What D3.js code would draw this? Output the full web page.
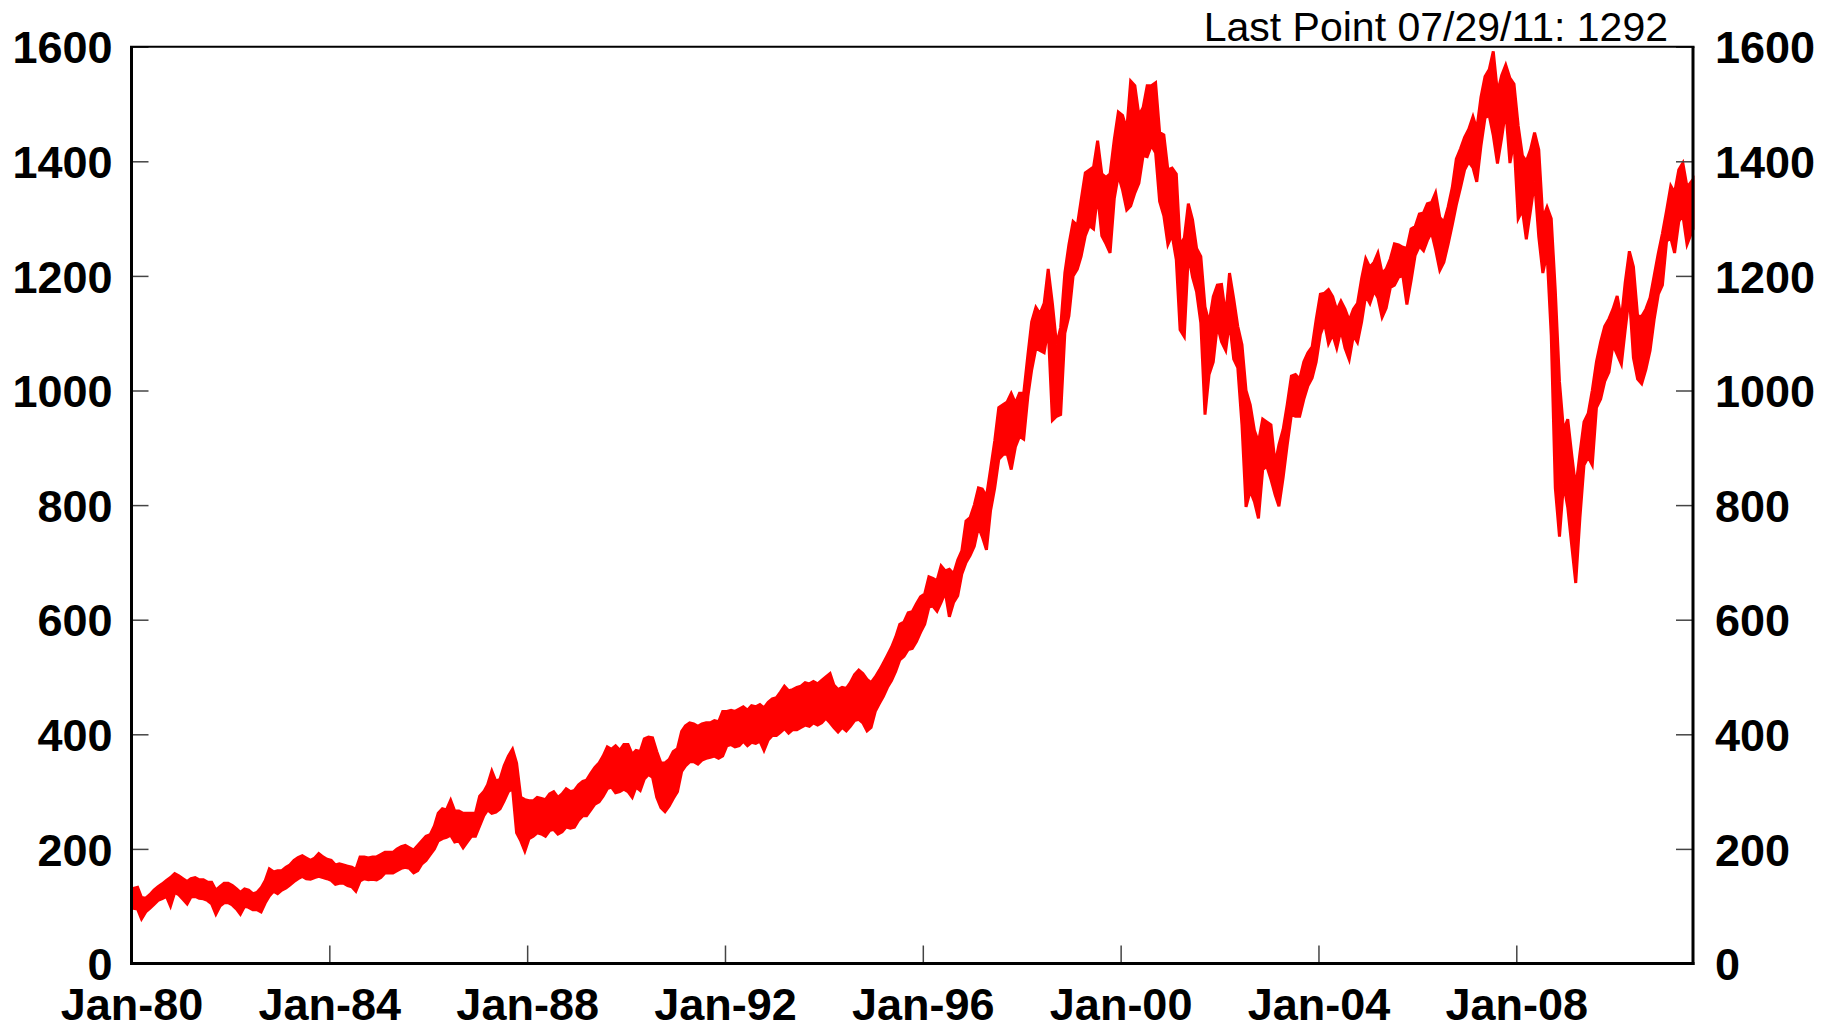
<!DOCTYPE html>
<html>
<head>
<meta charset="utf-8">
<script src="https://cdn.jsdelivr.net/npm/d3@7"></script>
<style>
  body { margin: 0; background: #fff; }
  svg { display: block; }
  .tick text { font-family: "Liberation Sans", Arial, sans-serif; font-weight: bold; font-size: 45px; fill: #000; }
  .tick line { stroke: #444; stroke-width: 1.5; }
</style>
</head>
<body>
<svg id="canvas"></svg>
<script>
// monthly band, Jan-80 .. Jul-11 (top and bottom edge of the drawn line)
let bandLow = [
  97, 95, 78, 90, 96, 103, 110, 113, 117, 100, 124, 120,             // 1980
  112, 104, 116, 117, 114, 113, 110, 104, 86, 100, 106, 106,         // 1981
  102, 95, 86, 100, 98, 94, 94, 90, 106, 118, 126, 122,              // 1982
  128, 132, 137, 143, 148, 152, 148, 147, 150, 152, 150, 148,        // 1983
  145, 138, 140, 140, 136, 134, 126, 144, 148, 146, 147, 146,        // 1984
  150, 158, 158, 158, 162, 166, 168, 166, 158, 162, 174, 180,        // 1985
  190, 200, 214, 218, 220, 224, 212, 214, 202, 212, 222, 222,        // 1986
  240, 258, 268, 262, 264, 270, 284, 300, 305, 228, 214, 196,        // 1987
  218, 222, 228, 226, 222, 232, 234, 226, 230, 238, 236, 238,        // 1988
  250, 258, 258, 268, 278, 282, 292, 305, 308, 298, 300, 304,        // 1989
  300, 290, 308, 302, 322, 330, 325, 290, 272, 265, 275, 288,        // 1990
  300, 335, 345, 352, 352, 348, 355, 358, 360, 362, 358, 362,        // 1991
  380, 382, 378, 380, 388, 380, 386, 384, 388, 372, 390, 398,        // 1992
  398, 404, 410, 402, 408, 408, 412, 416, 414, 420, 416, 420,        // 1993
  428, 420, 412, 404, 412, 406, 414, 424, 426, 420, 406, 412,        // 1994
  440, 454, 466, 482, 494, 510, 530, 536, 548, 550, 562, 578,        // 1995
  592, 622, 624, 615, 630, 648, 605, 630, 642, 680, 700, 712,        // 1996
  728, 762, 745, 722, 790, 830, 880, 888, 890, 862, 902, 920,        // 1997
  915, 990, 1036, 1074, 1070, 1066, 1108, 948, 955, 958, 1100, 1130, // 1998
  1200, 1212, 1234, 1270, 1288, 1282, 1342, 1270, 1256, 1240, 1335, 1376, // 1999
  1350, 1315, 1322, 1345, 1362, 1410, 1408, 1428, 1415, 1330, 1305, 1255, // 2000
  1272, 1228, 1106, 1094, 1238, 1198, 1172, 1118, 958, 1028, 1050, 1114,  // 2001
  1085, 1070, 1120, 1055, 1040, 940, 797, 825, 806, 777, 862, 868,        // 2002
  845, 818, 798, 848, 905, 958, 955, 955, 985, 1008, 1022, 1050,          // 2003
  1098, 1118, 1082, 1098, 1074, 1106, 1074, 1054, 1096, 1084, 1120, 1166, // 2004
  1152, 1174, 1162, 1128, 1144, 1180, 1184, 1198, 1200, 1150, 1192, 1236, // 2005
  1252, 1244, 1262, 1276, 1246, 1210, 1224, 1255, 1289, 1324, 1354, 1385, // 2006
  1399, 1389, 1364, 1427, 1476, 1480, 1445, 1396, 1441, 1490, 1397, 1435, // 2007
  1300, 1315, 1264, 1314, 1365, 1268, 1205, 1240, 1096, 830, 745, 838,    // 2008
  796, 726, 664, 778, 870, 884, 870, 970, 985, 1016, 1032, 1080,          // 2009
  1063, 1046, 1105, 1166, 1057, 1020, 1012, 1037, 1070, 1124, 1168, 1184, // 2010
  1261, 1266, 1240, 1295, 1306, 1255, 1282                                // 2011
];

let bandHigh = [
  130, 133, 115, 114, 120, 128, 134, 139, 145, 150, 157, 153,        // 1980
  148, 143, 148, 150, 146, 146, 142, 142, 128, 134, 140, 140,        // 1981
  136, 130, 124, 130, 128, 122, 124, 132, 145, 165, 160, 162,        // 1982
  162, 168, 172, 180, 185, 188, 184, 180, 184, 192, 186, 182,        // 1983
  180, 172, 174, 172, 170, 168, 164, 186, 186, 184, 186, 186,        // 1984
  190, 194, 194, 194, 200, 204, 206, 202, 198, 206, 214, 222,        // 1985
  225, 240, 262, 270, 268, 285, 266, 266, 262, 262, 262, 262,        // 1986
  292, 300, 312, 336, 318, 322, 345, 362, 374, 350, 290, 286,        // 1987
  284, 284, 290, 288, 286, 296, 300, 290, 296, 305, 300, 302,        // 1988
  312, 318, 320, 332, 342, 350, 362, 378, 374, 380, 372, 382,        // 1989
  382, 365, 372, 370, 392, 395, 394, 370, 350, 350, 356, 370,        // 1990
  375, 405, 415, 420, 418, 414, 418, 420, 420, 424, 422, 440,        // 1991
  440, 442, 440, 444, 448, 442, 450, 448, 452, 446, 456, 462,        // 1992
  464, 474, 484, 476, 478, 482, 484, 490, 488, 492, 488, 494,        // 1993
  500, 506, 486, 478, 482, 480, 490, 504, 512, 506, 496, 490,        // 1994
  500, 512, 524, 538, 552, 570, 592, 596, 612, 614, 628, 640,        // 1995
  645, 675, 672, 668, 694, 685, 688, 680, 704, 720, 772, 778,        // 1996
  800, 830, 828, 815, 862, 912, 970, 975, 980, 995, 978, 995,        // 1997
  995, 1062, 1120, 1145, 1134, 1152, 1212, 1152, 1080, 1110, 1205, 1255,  // 1998
  1295, 1288, 1332, 1380, 1385, 1390, 1436, 1378, 1372, 1378, 1438, 1486, // 1999
  1480, 1455, 1540, 1532, 1480, 1494, 1532, 1532, 1537, 1450, 1446, 1385, // 2000
  1388, 1378, 1254, 1266, 1326, 1298, 1248, 1234, 1146, 1118, 1164, 1184, // 2001
  1185, 1130, 1205, 1160, 1112, 1080, 1000, 975, 930, 910, 950, 945,      // 2002
  940, 872, 905, 932, 975, 1025, 1028, 1020, 1050, 1066, 1076, 1124,      // 2003
  1168, 1170, 1176, 1164, 1140, 1156, 1142, 1122, 1142, 1152, 1196, 1230, // 2004
  1215, 1224, 1240, 1205, 1212, 1230, 1256, 1254, 1250, 1248, 1282, 1286, // 2005
  1308, 1310, 1326, 1328, 1345, 1302, 1294, 1320, 1354, 1404, 1422, 1442, // 2006
  1456, 1478, 1456, 1512, 1548, 1560, 1592, 1520, 1550, 1568, 1545, 1535, // 2007
  1462, 1410, 1400, 1420, 1450, 1420, 1300, 1320, 1300, 1175, 1015, 930,  // 2008
  950, 885, 830, 890, 945, 960, 1000, 1050, 1085, 1112, 1125, 1142,       // 2009
  1165, 1124, 1188, 1243, 1216, 1130, 1129, 1142, 1162, 1200, 1240, 1274, // 2010
  1314, 1357, 1345, 1385, 1397, 1355, 1368                                // 2011
];

let yTicks = [0, 200, 400, 600, 800, 1000, 1200, 1400, 1600];
let xTickYears = [1980, 1984, 1988, 1992, 1996, 2000, 2004, 2008];
let lastPointText = "Last Point 07/29/11: 1292";

let width = 1821;
let height = 1024;
let plotLeft = 131.5;
let plotRight = 1693;
let plotTop = 46.7;
let plotBottom = 963.5;

let startDate = new Date(1980, 0, 1);
let endDate = new Date(2011, 6, 29);

let canvas = d3.select("#canvas").attr("width", width).attr("height", height);

let xScale = d3.scaleTime().domain([startDate, endDate]).range([plotLeft, plotRight]);
let yScale = d3.scaleLinear().domain([0, 1600]).range([plotBottom, plotTop]);

let values = bandLow.map((lo, i) => {
  let date = new Date(1980, i, 15);
  if (i === 0) date = startDate;
  if (i === bandLow.length - 1) date = endDate;
  return { date: date, lo: lo, hi: bandHigh[i] };
});

let drawBand = () => {
  let area = d3
    .area()
    .x((d) => xScale(d.date))
    .y0((d) => yScale(d.lo))
    .y1((d) => yScale(d.hi));

  canvas
    .append("path")
    .datum(values)
    .attr("d", area)
    .attr("fill", "#ff0000")
    .attr("stroke", "#ff0000")
    .attr("stroke-width", 3)
    .attr("stroke-linejoin", "miter");
};

let drawAxis = () => {
  let yLeft = d3.axisLeft(yScale).tickValues(yTicks).tickFormat(d3.format("d")).tickSize(-17).tickPadding(19);
  canvas.append("g").attr("transform", "translate(" + plotLeft + ",0)").call(yLeft)
    .call((g) => g.select(".domain").remove())
    .selectAll("text").attr("dy", "0.36em");

  let yRight = d3.axisRight(yScale).tickValues(yTicks).tickFormat(d3.format("d")).tickSize(-17).tickPadding(22);
  canvas.append("g").attr("transform", "translate(" + plotRight + ",0)").call(yRight)
    .call((g) => g.select(".domain").remove())
    .selectAll("text").attr("dy", "0.36em");

  let xAxis = d3
    .axisBottom(xScale)
    .tickValues(xTickYears.map((y) => new Date(y, 0, 1)))
    .tickFormat(d3.timeFormat("%b-%y"))
    .tickSize(-18)
    .tickPadding(24.5);
  canvas.append("g").attr("transform", "translate(0," + plotBottom + ")").call(xAxis)
    .call((g) => g.select(".domain").remove());
};

let drawFrame = () => {
  let frame = canvas.append("g").attr("stroke", "#000").attr("fill", "none");
  frame.append("line").attr("x1", plotLeft - 1.5).attr("x2", plotRight + 1.5).attr("y1", plotTop).attr("y2", plotTop).attr("stroke-width", 2);
  frame.append("line").attr("x1", plotLeft - 1.5).attr("x2", plotRight + 1.5).attr("y1", plotBottom).attr("y2", plotBottom).attr("stroke-width", 3);
  frame.append("line").attr("x1", plotLeft).attr("x2", plotLeft).attr("y1", plotTop).attr("y2", plotBottom + 1.5).attr("stroke-width", 3);
  frame.append("line").attr("x1", plotRight).attr("x2", plotRight).attr("y1", plotTop).attr("y2", plotBottom + 1.5).attr("stroke-width", 3);
};

drawBand();
drawAxis();
drawFrame();

canvas
  .append("text")
  .attr("x", 1668)
  .attr("y", 40.5)
  .attr("text-anchor", "end")
  .attr("font-family", "'Liberation Sans', Arial, sans-serif")
  .attr("font-size", 41)
  .attr("fill", "#000")
  .text(lastPointText);
</script>
</body>
</html>
